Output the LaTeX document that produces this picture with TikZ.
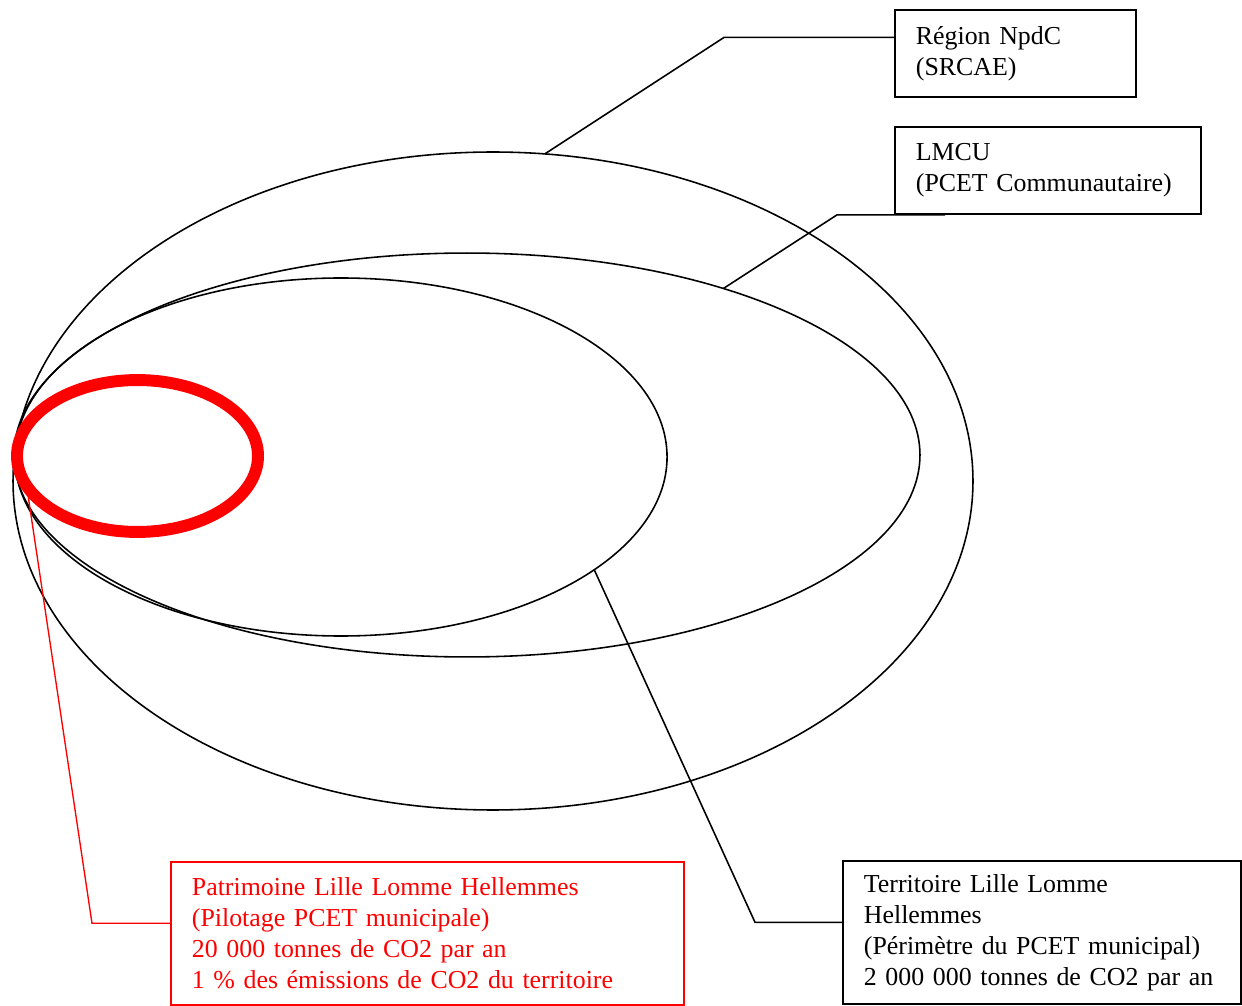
\documentclass[tikz,border=0pt]{standalone}
\usepackage{fontspec}
\setmainfont{Liberation Serif}
\usetikzlibrary{positioning, calc, shapes.geometric}
\tikzset{
every node/.style = {font = \fontsize{11.5}{13.8}\selectfont},
perimeter/.style = {ellipse, draw, line width = 0.7pt, inner sep = 0pt,
   outer sep = 0pt},
patrimony/.style = {ellipse, draw = red, line width = 5.3pt, inner sep = 0pt,
   outer sep = 0pt},
infobox/.style = {rectangle, draw, line width = 0.8pt, anchor = north west,
   inner xsep = 9.33pt, inner ysep = 0pt, align = left},
redbox/.style = {infobox, draw = red, text = red},
callout/.style = {line width = 0.7pt},
redcallout/.style = {line width = 0.6pt, red}
}
\begin{document}
\begin{tikzpicture}[x = 0.4444pt, y = -0.4444pt]
\useasboundingbox (0,0) rectangle (1242,1006);

%% Perimeters
\node [perimeter, minimum width = 426.6pt, minimum height = 292.4pt] (region) at (493,481) {};
\node [perimeter, minimum width = 402.6pt, minimum height = 179.5pt] (lmcu) at (467,455) {};
\node [perimeter, minimum width = 289.8pt, minimum height = 159.1pt] (territ) at (341,457) {};

%% Labels
\node [infobox, text width = 88.4pt, minimum height = 38.7pt] (regbox) at (894,9)
   {Région NpdC\\(SRCAE)};
\node [infobox, text width = 117.3pt, minimum height = 38.7pt] (lmcubox) at (894,126)
   {LMCU\\(PCET Communautaire)};
\node [infobox, text width = 158.2pt, minimum height = 63.6pt] (terbox) at (842,860)
   {Territoire Lille Lomme\\Hellemmes\\(Périmètre du PCET municipal)\\2 000 000 tonnes de CO2 par an};
\node [redbox, text width = 209.3pt, minimum height = 63.6pt] (patbox) at (170,861)
   {Patrimoine Lille Lomme Hellemmes\\(Pilotage PCET municipale)\\20 000 tonnes de CO2 par an\\1 \% des émissions de CO2 du territoire};

%% Patrimony
\node [patrimony, minimum width = 107.1pt, minimum height = 67.5pt] (patri) at (137.5,456) {};

%% Callouts
\draw [callout] ($(regbox.north west)!0.32!(regbox.south west)$) -- ++(-170,0) -- (region.81);
\draw [callout] (lmcubox.south west) ++(51,0) -- ++(-108,0) -- (lmcu.33);
\draw [callout] ($(terbox.north west)!0.43!(terbox.south west)$) -- ++(-87,0) -- (territ.-24);
\draw [redcallout] ($(patbox.north west)!0.43!(patbox.south west)$) -- ++(-78,0) -- (patri.195);

\end{tikzpicture}
\end{document}
